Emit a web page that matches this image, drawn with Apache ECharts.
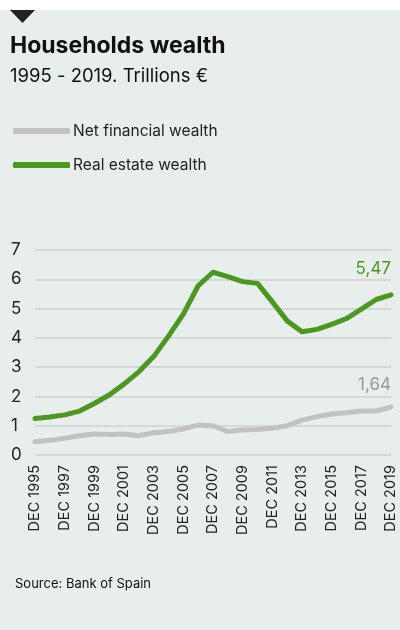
<!DOCTYPE html>
<html>
<head>
<meta charset="utf-8">
<script src="https://cdn.jsdelivr.net/npm/echarts@6/dist/echarts.min.js"></script>
<style>
html,body{margin:0;padding:0;background:#fff;}
#c{width:400px;height:630px;}
</style>
</head>
<body>
<div id="c"></div>
<script>
var categories = ['DEC 1995','DEC 1996','DEC 1997','DEC 1998','DEC 1999','DEC 2000','DEC 2001','DEC 2002','DEC 2003','DEC 2004','DEC 2005','DEC 2006','DEC 2007','DEC 2008','DEC 2009','DEC 2010','DEC 2011','DEC 2012','DEC 2013','DEC 2014','DEC 2015','DEC 2016','DEC 2017','DEC 2018','DEC 2019'];
var netFinancial = [0.45,0.50,0.57,0.66,0.72,0.70,0.72,0.66,0.76,0.80,0.89,1.02,1.00,0.80,0.85,0.87,0.91,1.00,1.19,1.31,1.40,1.44,1.50,1.50,1.64];
var realEstate = [1.25,1.30,1.37,1.50,1.76,2.05,2.42,2.84,3.36,4.06,4.81,5.78,6.24,6.09,5.92,5.86,5.23,4.58,4.21,4.29,4.46,4.66,4.98,5.31,5.47];
var yTicks = [0,1,2,3,4,5,6,7];

var GREEN = '#4b981f';
var GRAY = '#c2c2c2';
var FONT = 'Inter, "Noto Sans", sans-serif';

function withEndLabel(arr, color, dist) {
  return arr.map(function (v, i) {
    if (i === arr.length - 1) {
      return {
        value: v,
        label: {
          show: true, position: 'top', align: 'right', distance: dist,
          color: color, fontSize: 17, fontFamily: FONT,
          formatter: function (p) { return String(Number(p.value).toFixed(2)).replace('.', ','); }
        }
      };
    }
    return v;
  });
}

var chart = echarts.init(document.getElementById('c'), null, {renderer: 'canvas'});
chart.setOption({
  backgroundColor: '#fff',
  animation: false,
  graphic: [
    {type: 'rect', shape: {x: 0, y: 10, width: 400, height: 620}, style: {fill: '#e8eeeb'}, z: -10},
    {type: 'polygon', shape: {points: [[10, 10], [35, 10], [22.5, 23]]}, style: {fill: '#222222'}},
    {type: 'text', left: 10, top: 35, style: {text: 'Households wealth', font: 'bold 23px ' + FONT, fill: '#111'}},
    {type: 'text', left: 10, top: 67, style: {text: '1995 - 2019. Trillions €', font: '18.5px ' + FONT, fill: '#111'}},
    {type: 'text', left: 15, top: 578, style: {text: 'Source: Bank of Spain', font: '13px ' + FONT, fill: '#111'}}
  ],
  legend: {
    orient: 'vertical', left: 13, top: 123, itemGap: 18, padding: 0,
    itemWidth: 57, itemHeight: 6,
    icon: 'roundRect',
    textStyle: {fontSize: 15.5, fontFamily: FONT, color: '#222', padding: [0, 0, 0, -2]},
    data: ['Net financial wealth', 'Real estate wealth']
  },
  grid: {left: 35, right: 9, top: 250, bottom: 175, containLabel: false},
  xAxis: {
    type: 'category', data: categories, boundaryGap: false,
    axisLine: {show: false}, axisTick: {show: false},
    axisLabel: {interval: 1, rotate: 90, fontSize: 14.5, fontFamily: FONT, color: '#222', margin: 10}
  },
  yAxis: {
    type: 'value', min: 0, max: 7, interval: 1,
    axisLine: {show: false}, axisTick: {show: false},
    axisLabel: {fontSize: 17, fontFamily: FONT, color: '#222', align: 'left', margin: 24,
      formatter: function (v) { return yTicks.indexOf(v) >= 0 ? String(v) : ''; }},
    splitLine: {lineStyle: {color: '#d6d8d7', width: 2}}
  },
  series: [
    {
      name: 'Net financial wealth', type: 'line', data: withEndLabel(netFinancial, '#999999', 13),
      symbol: 'circle', symbolSize: 1, showSymbol: true,
      lineStyle: {color: GRAY, width: 5, cap: 'round', join: 'round'},
      itemStyle: {color: GRAY}
    },
    {
      name: 'Real estate wealth', type: 'line', data: withEndLabel(realEstate, GREEN, 17),
      symbol: 'circle', symbolSize: 1, showSymbol: true,
      lineStyle: {color: GREEN, width: 5, cap: 'round', join: 'round'},
      itemStyle: {color: GREEN}
    }
  ]
});
</script>
</body>
</html>
